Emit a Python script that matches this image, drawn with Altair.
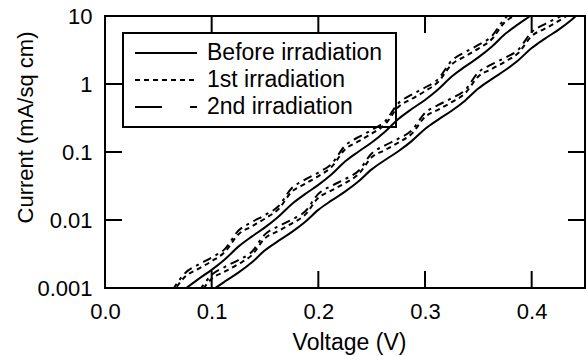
import altair as alt
import pandas as pd

FONT = "Liberation Sans"

# ---------------- data ----------------
V_UPPER = [0.0625, 0.075, 0.0875, 0.1, 0.1125, 0.125, 0.1375, 0.15, 0.1625, 0.175,
           0.1875, 0.2, 0.2125, 0.225, 0.2375, 0.25, 0.2625, 0.275, 0.2875, 0.3,
           0.3125, 0.325, 0.3375, 0.35, 0.3625, 0.375, 0.3875, 0.4, 0.4125]
V_LOWER = [0.0875, 0.1, 0.1125, 0.125, 0.1375, 0.15, 0.1625, 0.175, 0.1875, 0.2,
           0.2125, 0.225, 0.2375, 0.25, 0.2625, 0.275, 0.2875, 0.3, 0.3125, 0.325,
           0.3375, 0.35, 0.3625, 0.375, 0.3875, 0.4, 0.4125, 0.425, 0.4375, 0.45]

I_UPPER_BEFORE = [0.00063, 0.00096, 0.00135, 0.00185, 0.00265, 0.00406, 0.0057, 0.0078, 0.0112, 0.0171,
                  0.0240, 0.0328, 0.0471, 0.0723, 0.101, 0.138, 0.199, 0.305, 0.428, 0.583,
                  0.838, 1.285, 1.80, 2.46, 3.53, 5.42, 7.60, 10.4, 14.8]
I_UPPER_FIRST = [0.00081, 0.00146, 0.00191, 0.00248, 0.0034, 0.00614, 0.00804, 0.0105, 0.0144, 0.0259,
                 0.0339, 0.0442, 0.0605, 0.109, 0.143, 0.186, 0.255, 0.460, 0.603, 0.785,
                 1.08, 1.94, 2.54, 3.31, 4.54, 8.18, 10.7, 14.0]
I_UPPER_SECOND = [0.00089, 0.00165, 0.0022, 0.00281, 0.00376, 0.00694, 0.0093, 0.0118, 0.0159, 0.0293,
                  0.0392, 0.0499, 0.0669, 0.1235, 0.165, 0.211, 0.282, 0.521, 0.697, 0.888,
                  1.19, 2.20, 2.94, 3.75, 5.02, 9.26, 12.4]
I_LOWER_BEFORE = [0.00060, 0.00091, 0.00125, 0.00168, 0.00237, 0.00358, 0.00492, 0.00662, 0.00933, 0.0141,
                  0.0194, 0.0261, 0.0367, 0.0555, 0.0762, 0.1026, 0.1445, 0.218, 0.300, 0.404,
                  0.569, 0.859, 1.18, 1.59, 2.24, 3.38, 4.65, 6.25, 8.81, 13.3]
I_LOWER_FIRST = [0.00077, 0.00137, 0.00175, 0.00225, 0.00303, 0.00538, 0.0069, 0.00887, 0.0119, 0.0212,
                 0.0272, 0.0349, 0.047, 0.0834, 0.107, 0.137, 0.185, 0.328, 0.421, 0.541,
                 0.728, 1.29, 1.66, 2.13, 2.86, 5.08, 6.52, 8.38, 11.3]
I_LOWER_SECOND = [0.00086, 0.00156, 0.00205, 0.00258, 0.00339, 0.00615, 0.00807, 0.0101, 0.0133, 0.0242,
                  0.0318, 0.0399, 0.0525, 0.0953, 0.125, 0.157, 0.207, 0.375, 0.492, 0.618,
                  0.813, 1.48, 1.94, 2.43, 3.20, 5.81, 7.62, 9.57, 12.6]

LEGEND_LABELS = ["Before irradiation", "1st irradiation", "2nd irradiation"]
X_TICKS = [0.0, 0.1, 0.2, 0.3, 0.4]
Y_TICKS = [0.001, 0.01, 0.1, 1, 10]
X_INNER_TICKS = [0.1, 0.2, 0.3, 0.4]
Y_INNER_TICKS = [0.01, 0.1, 1]

# ---------------- build tables ----------------
rows = []
def add(curve, style, vs, cs):
    for v, c in zip(vs, cs):
        rows.append({"curve": curve, "style": style, "V": v, "I": c})

add("u0", "solid", V_UPPER, I_UPPER_BEFORE)
add("u1", "dot", V_UPPER, I_UPPER_FIRST)
add("u2", "dash", V_UPPER, I_UPPER_SECOND)
add("l0", "solid", V_LOWER, I_LOWER_BEFORE)
add("l1", "dot", V_LOWER, I_LOWER_FIRST)
add("l2", "dash", V_LOWER, I_LOWER_SECOND)
df = pd.DataFrame(rows)

W, H = 480, 272

X = alt.X("V:Q", scale=alt.Scale(domain=[0, 0.45], nice=False, zero=False),
          axis=alt.Axis(values=X_TICKS, format=".1f", ticks=False, domain=False, grid=False,
                        labelFlush=False, labelPadding=13, labelFontSize=22, labelFont=FONT,
                        labelColor="black", title="Voltage (V)", titleFont=FONT,
                        titleFontSize=23, titleFontWeight="normal", titleColor="black",
                        titleX=244, titleY=61, titleBaseline="alphabetic", titleAlign="center"))
Y = alt.Y("I:Q", scale=alt.Scale(type="log", domain=[0.001, 10], nice=False),
          axis=alt.Axis(values=Y_TICKS, format="~g", ticks=False, domain=False, grid=False,
                        labelPadding=13, labelFontSize=22, labelFont=FONT, labelColor="black",
                        labelFlush=False,
                        title="Current (mA/sq cm)", titleFont=FONT, titleFontSize=22,
                        titleFontWeight="normal", titleColor="black", titleAngle=-90,
                        titleX=-80, titleY=111, titleBaseline="middle", titleAlign="center"))

base = alt.Chart(df)
LW = 2
line_solid = base.transform_filter(alt.datum.style == "solid").mark_line(
    clip=True, color="black", strokeWidth=LW, interpolate="monotone").encode(
    x=X, y=Y, detail="curve:N", order="V:Q")
line_dot = base.transform_filter(alt.datum.style == "dot").mark_line(
    clip=True, color="black", strokeWidth=LW, interpolate="monotone", strokeDash=[5, 4]).encode(
    x=X, y=Y, detail="curve:N", order="V:Q")
line_dash = base.transform_filter(alt.datum.style == "dash").mark_line(
    clip=True, color="black", strokeWidth=LW, interpolate="monotone", strokeDash=[9, 5, 3, 5]).encode(
    x=X, y=Y, detail="curve:N", order="V:Q")

xt = pd.DataFrame({"V": X_INNER_TICKS})
yt = pd.DataFrame({"I": Y_INNER_TICKS})
TL = 17
tick_bottom = alt.Chart(xt).mark_rule(color="black", strokeWidth=2).encode(
    x=X, y=alt.value(H), y2=alt.value(H - TL))
tick_top = alt.Chart(xt).mark_rule(color="black", strokeWidth=2).encode(
    x=X, y=alt.value(0), y2=alt.value(TL))
tick_left = alt.Chart(yt).mark_rule(color="black", strokeWidth=2).encode(
    y=Y, x=alt.value(0), x2=alt.value(TL))
tick_right = alt.Chart(yt).mark_rule(color="black", strokeWidth=2).encode(
    y=Y, x=alt.value(W), x2=alt.value(W - TL))

one = pd.DataFrame({"k": [0]})
legend_box = alt.Chart(one).mark_rect(fill="white", stroke="black", strokeWidth=2).encode(
    x=alt.value(18), x2=alt.value(291), y=alt.value(17), y2=alt.value(111))

legend_layers = []
dashes = [[1, 0], [5, 4], [27, 28, 7, 28]]
row_y = [37, 64, 91]
for lab, dsh, yy in zip(LEGEND_LABELS, dashes, row_y):
    ldf = pd.DataFrame({"label": [lab]})
    legend_layers.append(alt.Chart(ldf).mark_rule(color="black", strokeWidth=2, strokeDash=dsh).encode(
        x=alt.value(30), x2=alt.value(92), y=alt.value(yy)))
    legend_layers.append(alt.Chart(ldf).mark_text(
        font=FONT, fontSize=23, color="black", align="left", baseline="middle").encode(
        x=alt.value(102), y=alt.value(yy), text="label:N"))

chart = alt.layer(
    legend_box, *legend_layers, line_solid, line_dot, line_dash,
    tick_bottom, tick_top, tick_left, tick_right
).properties(
    width=W, height=H,
    padding={"left": 105, "top": 16, "right": 2, "bottom": 68},
    autosize=alt.AutoSizeParams(type="none"),
    background="white",
).configure_view(stroke="black", strokeWidth=2)

chart.save("out.html", embed_options={"renderer": "svg", "actions": False})
